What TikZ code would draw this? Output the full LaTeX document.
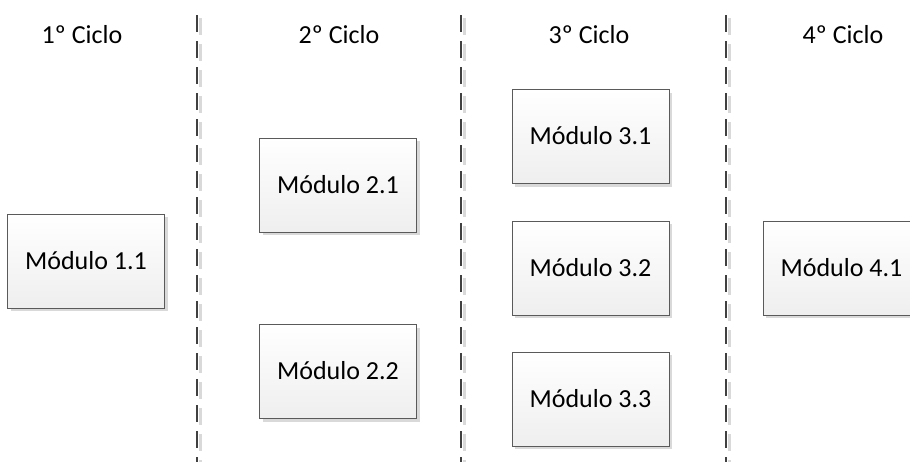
\documentclass[tikz,border=0pt]{standalone}
\usepackage{fontspec}
\setmainfont{Carlito}
\usetikzlibrary{shadows}
\definecolor{bordergray}{HTML}{5A5A5A}
\definecolor{dashgray}{HTML}{404040}
\definecolor{shadegray}{HTML}{D9D9D9}
\begin{document}
\begin{tikzpicture}[x=0.75pt,y=-0.75pt,
  modbox/.style={draw=bordergray, line width=0.75pt, top color=white, bottom color=gray!13,
    minimum width=117.75pt, minimum height=70.5pt, inner sep=0pt,
    font=\fontsize{19.5pt}{23pt}\selectfont, text height=12.56pt, text depth=0pt,
    drop shadow={shadow xshift=2.6pt, shadow yshift=-2.6pt, fill=shadegray, opacity=1}},
  hdr/.style={font=\fontsize{19.5pt}{23pt}\selectfont, anchor=base, inner sep=0pt},
  sepline/.style={draw=dashgray, line width=1.6pt, dash pattern=on 12.75pt off 6.75pt},
  sepshadow/.style={draw=shadegray, line width=1.6pt, dash pattern=on 12.75pt off 6.75pt}]
\useasboundingbox (0,0) rectangle (910,461);
\clip (0,0) rectangle (910,461);
\fill[white] (0,0) rectangle (910,461);
% separators
\foreach \sx/\nm in {197/a,461/b,726/c}{
  \coordinate (\nm top) at (\sx,15);
  \coordinate (\nm bot) at (\sx,470);
  \draw[sepshadow] ([xshift=2.6pt,yshift=-2.6pt]\nm top) -- ([xshift=2.6pt,yshift=-2.6pt]\nm bot);
  \draw[sepline] (\nm top) -- (\nm bot);
}
% headers
\node[hdr] (h1) at (82,43) {1º Ciclo};
\node[hdr] (h2) at (339,43) {2º Ciclo};
\node[hdr] (h3) at (589,43) {3º Ciclo};
\node[hdr] (h4) at (843,43) {4º Ciclo};
% modules
\node[modbox] (m11) at (86,261) {Módulo 1.1};
\node[modbox] (m21) at (338,185) {Módulo 2.1};
\node[modbox] (m22) at (338,371.5) {Módulo 2.2};
\node[modbox] (m31) at (590.5,136.5) {Módulo 3.1};
\node[modbox] (m32) at (590.5,268) {Módulo 3.2};
\node[modbox] (m33) at (590.5,399) {Módulo 3.3};
\node[modbox] (m41) at (841.5,268) {Módulo 4.1};
\end{tikzpicture}
\end{document}
